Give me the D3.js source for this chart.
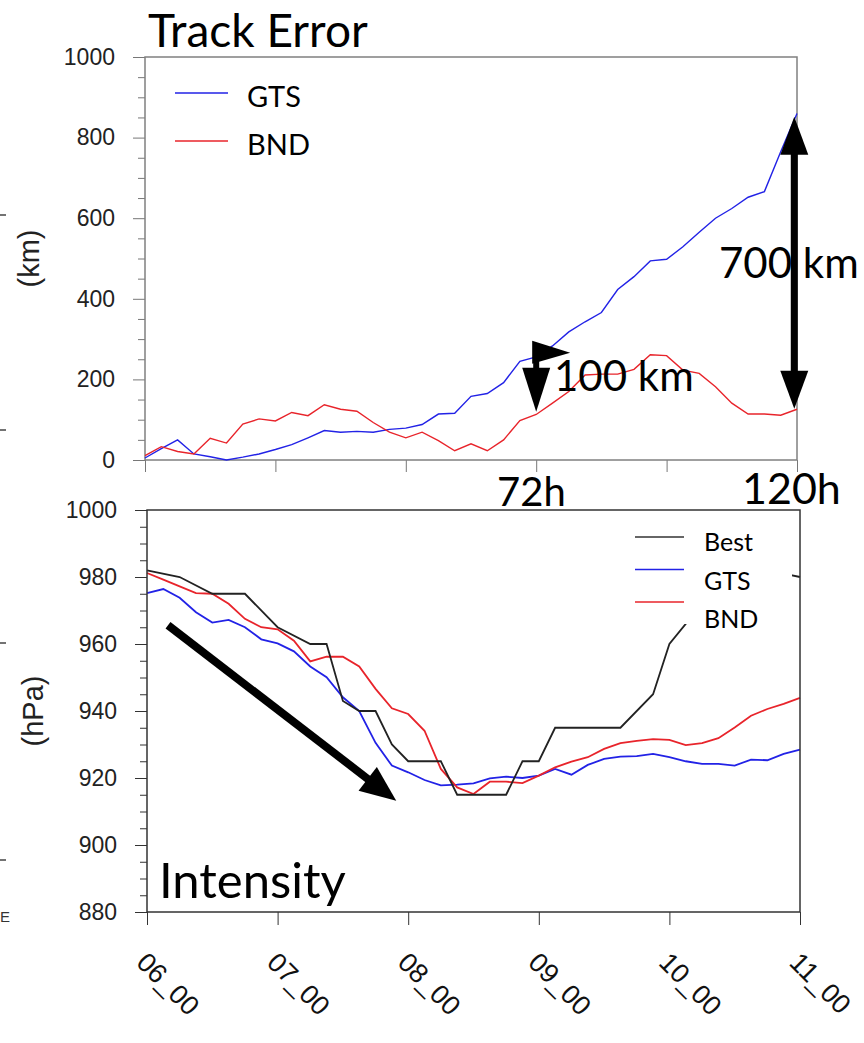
<!DOCTYPE html>
<html>
<head>
<meta charset="utf-8">
<script src="https://cdn.jsdelivr.net/npm/d3@7"></script>
<style>
body { margin: 0; background: #fff; }
svg { display: block; }
</style>
</head>
<body>
<script>
//
// DATA
//
// forecast lead time (h), one sample every 3 h
const leadHours = [0, 3, 6, 9, 12, 15, 18, 21, 24, 27, 30, 33, 36, 39, 42, 45, 48, 51, 54, 57,
    60, 63, 66, 69, 72, 75, 78, 81, 84, 87, 90, 93, 96, 99, 102, 105, 108, 111, 114, 117, 120]

// track error (km)
const gtsTrack = [5, 28, 50, 15, 8, 0, 7, 15, 26, 38, 55, 73, 69, 71, 69, 76, 79, 88, 114, 116,
    158, 165, 192, 245, 256, 283, 318, 343, 366, 423, 455, 494, 498, 529, 565, 600, 624, 652, 666, 765, 860]
const bndTrack = [11, 33, 21, 15, 54, 42, 89, 102, 97, 118, 110, 137, 126, 121, 93, 69, 55, 69, 48, 23,
    40, 23, 50, 98, 113, 141, 170, 211, 213, 213, 225, 261, 259, 223, 215, 182, 141, 114, 114, 111, 126]

// minimum sea level pressure (hPa)
const gtsPres = [975.2, 976.4, 973.8, 969.5, 966.4, 967.2, 965, 961.4, 960.2, 957.8, 953.3, 950.1, 944.1,
    940, 930.5, 923.7, 921.7, 919.4, 917.8, 918, 918.4, 919.9, 920.4, 920, 920.7, 922.7, 921, 923.9,
    925.7, 926.4, 926.5, 927.2, 926.2, 925, 924.2, 924.2, 923.7, 925.5, 925.3, 927.2, 928.5]
const bndPres = [981.2, 979.2, 977.2, 975.2, 975, 972, 967.5, 965, 964.4, 961, 954.8, 956.2, 956.2,
    953.3, 946.6, 940.8, 939.1, 934.1, 922.7, 917.2, 915.2, 918.9, 918.9, 918.5, 920.7, 923.2, 924.9,
    926.2, 928.7, 930.4, 931.1, 931.6, 931.4, 929.8, 930.4, 931.9, 935.1, 938.6, 940.6, 942.1, 943.9]
// best track only changes at these times
const bestHours = [0, 6, 12, 18, 24, 30, 33, 36, 39, 42, 45, 48, 54, 57, 66, 69, 72, 75, 87, 93, 96,
    99, 102, 108, 114, 117, 120]
const bestPres = [982, 980, 975, 975, 965, 960, 960, 943, 940, 940, 930, 925, 925, 915, 915, 925, 925,
    935, 935, 945, 960, 966, 970, 976, 980, 981, 980]

// axes
const trackTicks = [0, 200, 400, 600, 800, 1000]
const trackMinor = [50, 100, 150, 250, 300, 350, 450, 500, 550, 650, 700, 750, 850, 900, 950]
const presTicks = [880, 900, 920, 940, 960, 980, 1000]
const presMinor = [885, 890, 895, 905, 910, 915, 925, 930, 935, 945, 950, 955, 965, 970, 975, 985, 990, 995]
const dayHours = [0, 24, 48, 72, 96, 120]
const dayLabels = ['06_00', '07_00', '08_00', '09_00', '10_00', '11_00']

//
// GLOBALS
//
const width = 864
const height = 1043
const numFont = "'Liberation Sans', Arial, sans-serif"
const noteFont = "Lato, 'Open Sans', sans-serif"
const blue = '#2222e6'
const red = '#e8242b'

const svg = d3.select('body').append('svg')
    .attr('width', width).attr('height', height)
    .attr('viewBox', `0 0 ${width} ${height}`)

// solid arrow: a thick shaft and triangle heads (end, or both ends)
const drawArrow = (g, x1, y1, x2, y2, opts) => {
    const { shaft, headLen, headHalf, both } = opts
    const len = Math.hypot(x2 - x1, y2 - y1)
    const ux = (x2 - x1) / len
    const uy = (y2 - y1) / len
    const head = (tx, ty, dx, dy) => {
        const bx = tx - dx * headLen
        const by = ty - dy * headLen
        g.append('polygon')
            .attr('points', [[tx, ty], [bx - dy * headHalf, by + dx * headHalf], [bx + dy * headHalf, by - dx * headHalf]].join(' '))
            .attr('fill', '#000')
    }
    const sx = both ? x1 + ux * (headLen - 2) : x1
    const sy = both ? y1 + uy * (headLen - 2) : y1
    g.append('line')
        .attr('x1', sx).attr('y1', sy)
        .attr('x2', x2 - ux * (headLen - 2)).attr('y2', y2 - uy * (headLen - 2))
        .attr('stroke', '#000').attr('stroke-width', shaft)
    head(x2, y2, ux, uy)
    if (both) head(x1, y1, -ux, -uy)
}

// y axis with major labelled ticks and short minor ticks
const plotYAxis = (g, y, x0, major, minor) => {
    const ax = g.append('g').attr('transform', `translate(${x0},0)`)
    ax.call(d3.axisLeft(y).tickValues(major).tickSize(12).tickPadding(18).tickFormat(d3.format('d')))
    ax.append('g').call(d3.axisLeft(y).tickValues(minor).tickSize(7).tickFormat(''))
    ax.selectAll('.domain').remove()
    ax.selectAll('text').attr('font-family', numFont).attr('font-size', 23).attr('fill', '#222')
    return ax
}

//
// TOP PANEL: track error
//
const plotTrack = () => {
    const x = d3.scaleLinear().domain([0, 120]).range([145, 797])
    const y = d3.scaleLinear().domain([0, 1000]).range([460, 57])
    const g = svg.append('g').attr('class', 'track')

    const yAx = plotYAxis(g, y, x(0), trackTicks, trackMinor)
    yAx.selectAll('line').attr('stroke', '#777')
    const xAx = g.append('g').attr('transform', `translate(0,${y(0)})`)
        .call(d3.axisBottom(x).tickValues(dayHours).tickSize(12).tickFormat(''))
    xAx.select('.domain').remove()
    xAx.selectAll('line').attr('stroke', '#777')

    g.append('rect')
        .attr('x', x(0)).attr('y', y(1000))
        .attr('width', x(120) - x(0)).attr('height', y(0) - y(1000))
        .attr('fill', 'none').attr('stroke', '#808080').attr('stroke-width', 1.5)

    const line = d3.line().x((d, i) => x(leadHours[i])).y(d => y(d))
    g.append('path').attr('d', line(gtsTrack)).attr('fill', 'none').attr('stroke', blue).attr('stroke-width', 1.4)
    g.append('path').attr('d', line(bndTrack)).attr('fill', 'none').attr('stroke', red).attr('stroke-width', 1.4)

    // legend
    const legend = [['GTS', blue], ['BND', red]]
    legend.forEach(([name, col], i) => {
        const ly = 93 + i * 48
        g.append('line').attr('x1', 175).attr('x2', 228).attr('y1', ly).attr('y2', ly)
            .attr('stroke', col).attr('stroke-width', 1.4)
        g.append('text').attr('x', 247).attr('y', ly + 14).text(name)
            .attr('font-family', noteFont).attr('font-size', 29).attr('fill', '#000')
    })

    g.append('text')
        .attr('transform', `translate(39,${(y(0) + y(1000)) / 2}) rotate(-90)`)
        .attr('text-anchor', 'middle').text('(km)')
        .attr('font-family', numFont).attr('font-size', 29).attr('fill', '#222')

    g.append('text').attr('x', 148).attr('y', 47).text('Track Error')
        .attr('font-family', noteFont).attr('font-size', 46).attr('fill', '#000')

    // annotations: error gaps at 72 h and 120 h
    const notes = g.append('g').attr('class', 'notes')
    drawArrow(notes, x(119.5), y(127), x(119.5), y(852), { shaft: 7, headLen: 38, headHalf: 14, both: true })
    drawArrow(notes, x(72), y(266), x(72), y(120), { shaft: 6, headLen: 44, headHalf: 14 })
    const ty = y(266)
    notes.append('polygon')
        .attr('points', [[x(72) - 4, ty - 12], [x(72) + 34, ty], [x(72) - 4, ty + 11]].join(' '))
        .attr('fill', '#000')
    notes.append('text').attr('x', 719).attr('y', 278).text('700 km')
        .attr('font-family', noteFont).attr('font-size', 42).attr('fill', '#000')
    notes.append('text').attr('x', 554).attr('y', 391).text('100 km')
        .attr('font-family', noteFont).attr('font-size', 42).attr('fill', '#000')
}

//
// BOTTOM PANEL: intensity
//
const plotIntensity = () => {
    const x = d3.scaleLinear().domain([0, 120]).range([147, 800])
    const y = d3.scaleLinear().domain([880, 1000]).range([912, 510])
    const g = svg.append('g').attr('class', 'intensity')

    const yAx = plotYAxis(g, y, x(0), presTicks, presMinor)
    yAx.selectAll('line').attr('stroke', '#333')
    const xAx = g.append('g').attr('transform', `translate(0,${y(880)})`)
        .call(d3.axisBottom(x).tickValues(dayHours).tickSize(13).tickFormat(''))
    xAx.select('.domain').remove()
    xAx.selectAll('line').attr('stroke', '#333')
    // slanted day labels
    dayHours.forEach((h, i) => {
        g.append('text')
            .attr('transform', `translate(${x(h) - 12},964) rotate(45)`)
            .text(dayLabels[i])
            .attr('font-family', numFont).attr('font-size', 27).attr('fill', '#111')
    })

    const line = d3.line().x((d, i) => x(leadHours[i])).y(d => y(d))
    g.append('path').attr('d', line(gtsPres)).attr('fill', 'none').attr('stroke', blue).attr('stroke-width', 1.8)
    g.append('path').attr('d', line(bndPres)).attr('fill', 'none').attr('stroke', red).attr('stroke-width', 1.8)
    const bestLine = d3.line().x((d, i) => x(bestHours[i])).y(d => y(d))
    g.append('path').attr('d', bestLine(bestPres)).attr('fill', 'none').attr('stroke', '#222').attr('stroke-width', 1.8)

    g.append('rect')
        .attr('x', x(0)).attr('y', y(1000))
        .attr('width', x(120) - x(0)).attr('height', y(880) - y(1000))
        .attr('fill', 'none').attr('stroke', '#333').attr('stroke-width', 1.5)

    // legend box sits on top of the best track
    g.append('rect').attr('x', 630).attr('y', 514).attr('width', 162).attr('height', 110).attr('fill', '#fff')
    const legend = [['Best', '#333'], ['GTS', blue], ['BND', red]]
    legend.forEach(([name, col], i) => {
        const ly = 537 + i * 32.5
        g.append('line').attr('x1', 635).attr('x2', 684).attr('y1', ly).attr('y2', ly)
            .attr('stroke', col).attr('stroke-width', 1.6)
        g.append('text').attr('x', 704).attr('y', 551 + i * 38.5).text(name)
            .attr('font-family', noteFont).attr('font-size', 25).attr('fill', '#000')
    })

    g.append('text')
        .attr('transform', `translate(43,${(y(880) + y(1000)) / 2}) rotate(-90)`)
        .attr('text-anchor', 'middle').text('(hPa)')
        .attr('font-family', numFont).attr('font-size', 29).attr('fill', '#222')

    g.append('text').attr('x', 159).attr('y', 898).text('Intensity')
        .attr('font-family', noteFont).attr('font-size', 49).attr('fill', '#000')

    // deepening trend arrow
    drawArrow(g, x(3.86), y(965.6), x(45.8), y(913.2), { shaft: 8, headLen: 36, headHalf: 15 })

    // lead-time marks between the panels
    g.append('text').attr('x', 497).attr('y', 506).text('72h')
        .attr('font-family', noteFont).attr('font-size', 40).attr('fill', '#000')
    g.append('text').attr('x', 742).attr('y', 504).text('120h')
        .attr('font-family', noteFont).attr('font-size', 43).attr('fill', '#000')
}

plotTrack()
plotIntensity()

// bits of a neighbouring panel at the left edge
const edge = svg.append('g').attr('stroke', '#444').attr('stroke-width', 1.5)
;[215, 430, 643, 860].forEach(v => edge.append('line').attr('x1', 0).attr('x2', 6).attr('y1', v).attr('y2', v))
svg.append('text').attr('x', 0).attr('y', 922).text('E')
    .attr('font-family', numFont).attr('font-size', 15).attr('fill', '#333')
</script>
</body>
</html>
